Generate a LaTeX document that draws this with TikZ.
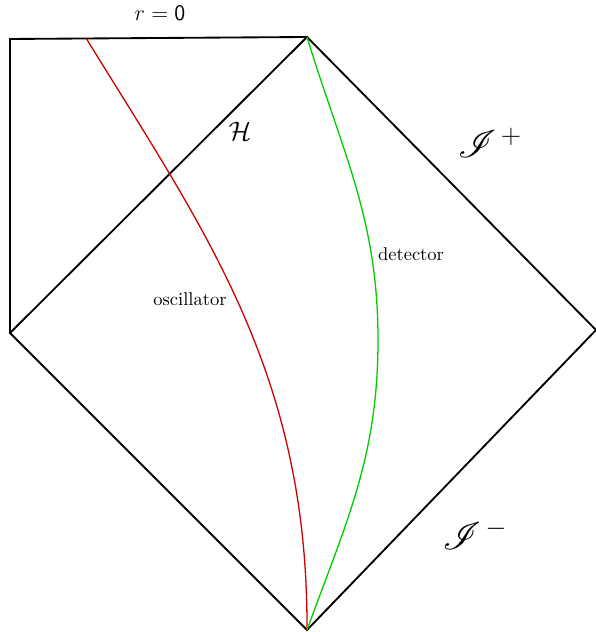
\documentclass[tikz,border=0pt]{standalone}
\usepackage{tikz}
\usetikzlibrary{positioning}
\usepackage{xcolor}
\usepackage{amsmath}
\usepackage{mathrsfs}
\definecolor{oscred}{RGB}{204,0,0}
\definecolor{detgreen}{RGB}{0,204,0}

\begin{document}
\begin{tikzpicture}[x=0.54pt, y=0.54pt,
  edge/.style={line width=1pt, line join=miter},
  world/.style={line width=0.7pt}]
\useasboundingbox (0,0) rectangle (596,632);
% corners of the diagram
\coordinate (topleft) at (10,593);
\coordinate (top) at (307,595);
\coordinate (right) at (596,302);
\coordinate (bottom) at (307,2);
\coordinate (left) at (10,299);
\coordinate (oscstart) at (86,594);
\coordinate (detmax) at (378,292);
% boundary and horizon
\draw[edge] (left) -- (topleft) -- (top) -- (right) -- (bottom) -- (left) -- (top);
% world lines
\draw[world, oscred] (bottom) .. controls (308,260) and (204,402) .. (oscstart);
\draw[world, detgreen] (bottom) to[out=70, in=-90] (detmax)
  to[out=90, in=-73] (top);
% labels
\node (rzero) at (160,619) {\large $r = \textsf{0}$};
\node (horizon) at (240,501) {\Large $\mathcal{H}$};
\node (scriplus) at (490,489) {\huge $\mathscr{I}^{\,\textsf{+}}$};
\node (scriminus) at (475,97) {\huge $\mathscr{I}^{\,-}$};
\node (detector) at (411,378) {detector};
\node (oscillator) at (190,333) {oscillator};
\end{tikzpicture}
\end{document}
